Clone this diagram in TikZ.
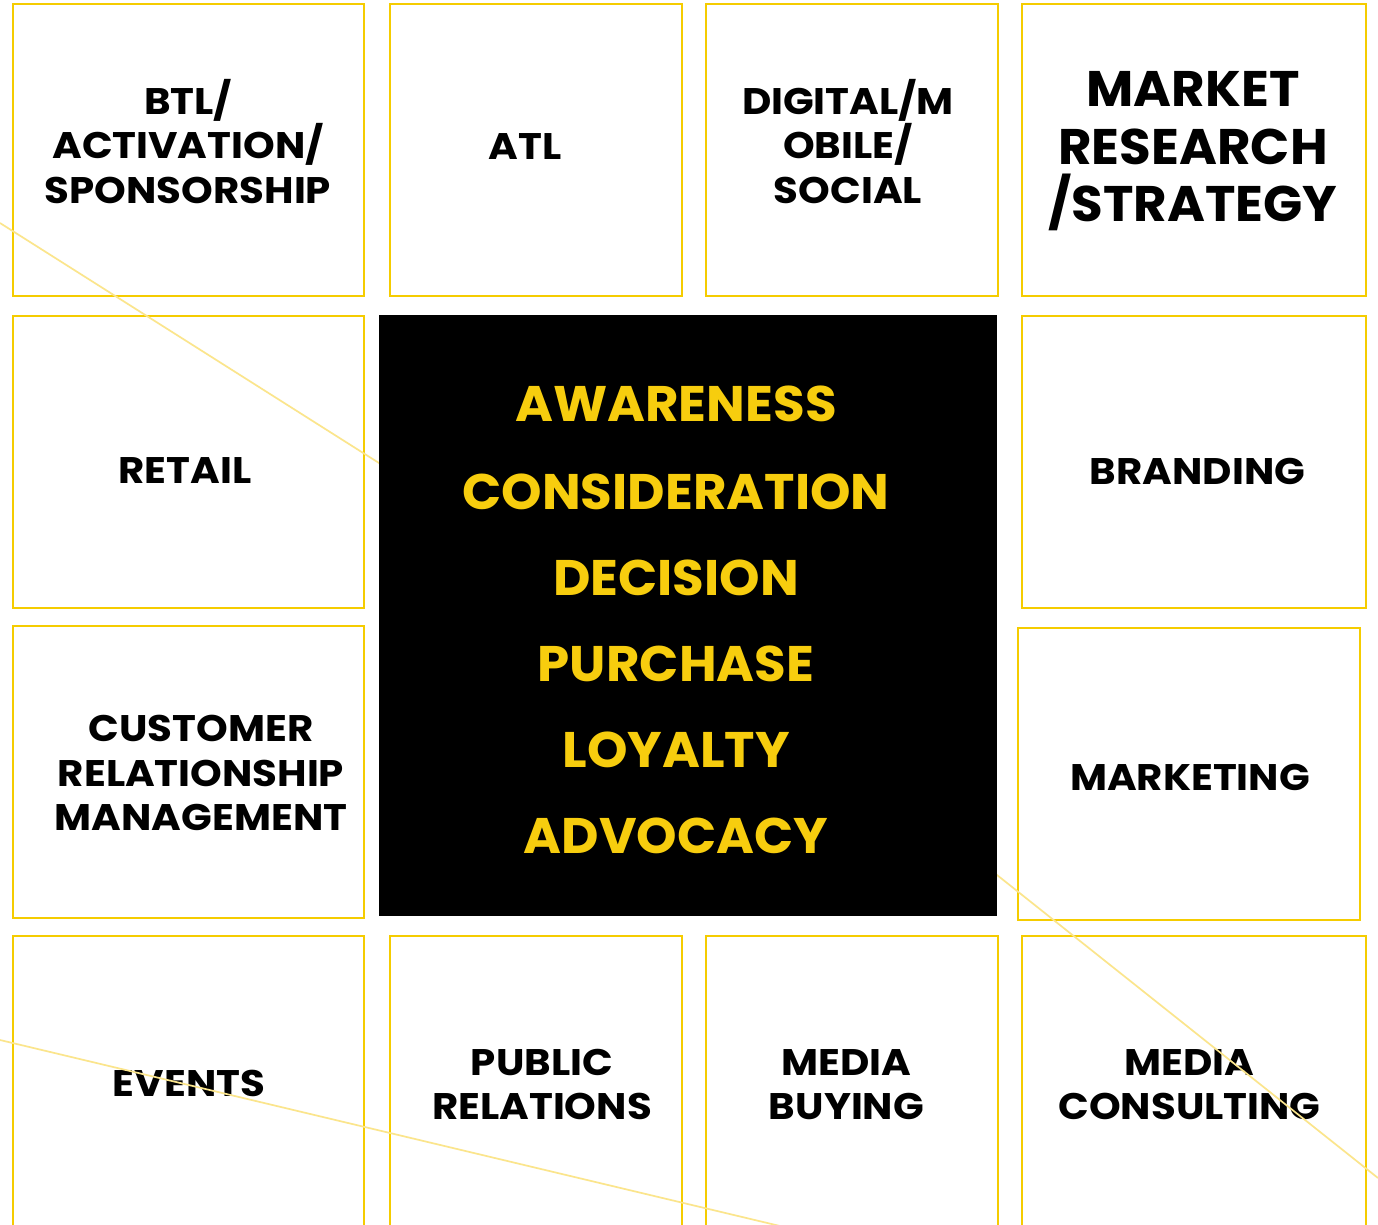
\documentclass[tikz,border=0pt]{standalone}
\usepackage{fontspec}
\setmainfont{Poppins}[BoldFont=* Bold]
\newfontfamily\tilefont{Poppins}[FakeStretch=1.09, BoldFont=* Bold]
\newfontfamily\widetilefont{Poppins}[FakeStretch=1.03, BoldFont=* Bold]
\newfontfamily\stagefont{Poppins}[FakeStretch=1.03, BoldFont=* Bold]
\definecolor{frame}{HTML}{F5CC00}
\definecolor{goldtext}{HTML}{F7CD0E}
\definecolor{streak}{HTML}{FBE58C}
\begin{document}
\begin{tikzpicture}[x=1pt,y=-1pt,
  tile/.style={draw=frame, line width=2pt, inner sep=0pt},
  label/.style={align=center, inner sep=0pt, text=black,
    font=\tilefont\bfseries\fontsize{37}{44.5}\selectfont},
  biglabel/.style={label, font=\widetilefont\bfseries\fontsize{50}{57.5}\selectfont},
  core/.style={fill=black, draw=none, inner sep=0pt},
  stage/.style={text=goldtext, font=\stagefont\bfseries\fontsize{50}{60}\selectfont, inner sep=0pt, anchor=center},
  streakline/.style={draw=streak, line width=1.7pt}]
\useasboundingbox (0,0) rectangle (1378,1224);
\clip (0,0) rectangle (1378,1224);
\fill[white] (0,0) rectangle (1378,1224);

% outer ring of service tiles
\node[tile, minimum width=351pt, minimum height=292pt] (btl) at (188.5,150) {};
\node[tile, minimum width=292pt, minimum height=292pt] (atl) at (536,150) {};
\node[tile, minimum width=292pt, minimum height=292pt] (digital) at (852,150) {};
\node[tile, minimum width=344pt, minimum height=292pt] (research) at (1194,150) {};
\node[tile, minimum width=351pt, minimum height=292pt] (retail) at (188.5,462) {};
\node[tile, minimum width=344pt, minimum height=292pt] (branding) at (1194,462) {};
\node[tile, minimum width=351pt, minimum height=292pt] (crm) at (188.5,772) {};
\node[tile, minimum width=342pt, minimum height=292pt] (marketing) at (1189,774) {};
\node[tile, minimum width=351pt, minimum height=292pt] (events) at (188.5,1082) {};
\node[tile, minimum width=292pt, minimum height=292pt] (pr) at (536,1082) {};
\node[tile, minimum width=292pt, minimum height=292pt] (buying) at (852,1082) {};
\node[tile, minimum width=344pt, minimum height=292pt] (consulting) at (1194,1082) {};

% tile captions
\node[label] (btl-t) at (188,141.5) {BTL/\\ACTIVATION/\\SPONSORSHIP};
\node[label] (atl-t) at (525,147) {ATL};
\node[label] (digital-t) at (848,141.5) {DIGITAL/M\\OBILE/\\SOCIAL};
\node[biglabel] (research-t) at (1193,151.5) {MARKET\\RESEARCH\\/STRATEGY};
\node[label] (retail-t) at (185,471) {RETAIL};
\node[label] (branding-t) at (1197.5,471) {BRANDING};
\node[label] (crm-t) at (201,773) {CUSTOMER\\RELATIONSHIP\\MANAGEMENT};
\node[label] (marketing-t) at (1190,777) {MARKETING};
\node[label] (events-t) at (189,1083) {EVENTS};
\node[label] (pr-t) at (542,1084.5) {PUBLIC\\RELATIONS};
\node[label] (buying-t) at (846.5,1084.5) {MEDIA\\BUYING};
\node[label] (consulting-t) at (1189.5,1084.5) {MEDIA\\CONSULTING};

% faint diagonal streaks
\coordinate (s1a) at (0,223);
\coordinate (s1b) at (379,463);
\coordinate (s1c) at (997,875);
\coordinate (s1d) at (1378,1178);
\draw[streakline] (s1a) -- (s1b) -- (s1c) -- (s1d);
\coordinate (s2a) at (0,1040);
\coordinate (s2b) at (780,1226);
\draw[streakline] (s2a) -- (s2b);

% central funnel block
\node[core, minimum width=618pt, minimum height=601pt] (funnel) at (688,615.5) {};
\node[stage] (aw) at (676,404) {AWARENESS};
\node[stage] (co) at (676,492) {CONSIDERATION};
\node[stage] (de) at (676,578) {DECISION};
\node[stage] (pu) at (676,664) {PURCHASE};
\node[stage] (lo) at (676,750) {LOYALTY};
\node[stage] (ad) at (676,836) {ADVOCACY};
\end{tikzpicture}
\end{document}
